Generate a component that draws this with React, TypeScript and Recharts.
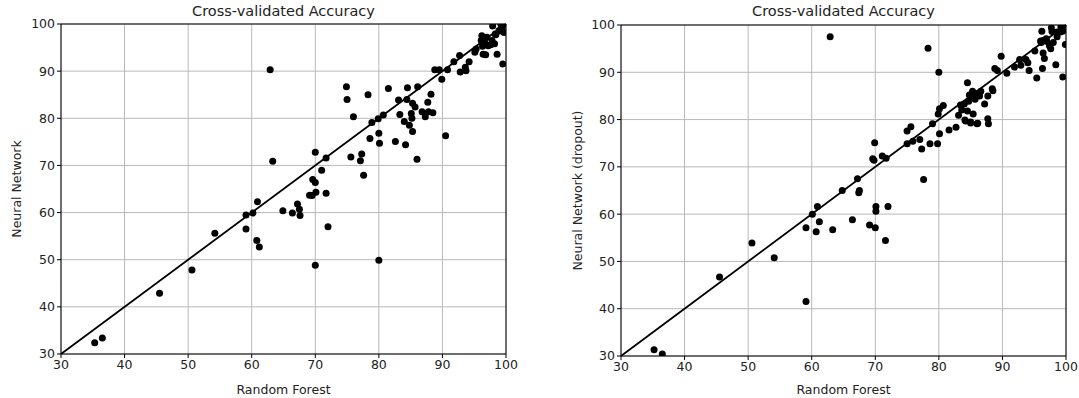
import React from 'react';
import { ScatterChart, Scatter, XAxis, YAxis, CartesianGrid, ReferenceLine, Label } from 'recharts';

const FONT = '"DejaVu Sans", sans-serif';

const axisTicks = [30, 40, 50, 60, 70, 80, 90, 100];
const chartTitle = 'Cross-validated Accuracy';
const xLabel = 'Random Forest';
const plainLabel = 'Neural Network';
const dropoutLabel = 'Neural Network (dropout)';

// [random forest accuracy, neural network accuracy] per dataset
const plainPairs: [number, number][] = [
  [35.3, 32.4], [36.5, 33.4], [45.5, 42.9], [50.6, 47.8], [54.2, 55.6], [59.1, 59.5], [59.1, 56.5],
  [60.2, 59.9], [60.9, 62.3], [60.8, 54.1], [61.2, 52.7], [62.9, 90.3], [63.3, 70.9], [64.9, 60.4],
  [66.4, 59.9], [67.2, 61.8], [67.5, 60.7], [67.6, 59.4], [69.1, 63.7], [69.5, 63.6], [70.1, 64.3],
  [71.7, 64.1], [69.6, 67.0], [70.0, 66.4], [70.0, 72.8], [71.0, 69.0], [71.7, 71.6], [72.0, 57.0],
  [70.0, 48.8], [80.0, 49.9], [75.6, 71.8], [77.1, 71.0], [77.3, 72.4], [77.6, 67.9], [74.9, 86.7],
  [75.0, 84.0], [76.0, 80.3], [78.3, 85.0], [78.6, 75.7], [78.9, 79.1], [79.9, 79.9], [80.7, 80.7],
  [80.0, 76.8], [80.1, 74.7], [81.5, 86.3], [82.6, 75.1], [83.1, 83.9], [83.3, 80.8], [84.0, 79.3],
  [84.5, 86.5], [84.4, 84.0], [84.8, 78.5], [84.2, 74.4], [85.1, 81.0], [85.2, 80.0], [85.3, 83.2],
  [85.7, 82.4], [85.3, 77.2], [86.1, 86.7], [86.0, 71.3], [86.8, 81.4], [87.3, 80.3], [87.8, 81.4],
  [87.7, 83.4], [88.2, 85.1], [88.5, 81.2], [88.8, 90.3], [89.5, 90.3], [89.9, 88.3], [90.8, 90.3],
  [90.5, 76.3], [91.8, 92.0], [92.7, 93.3], [92.8, 89.8], [93.6, 90.8], [93.7, 90.1], [94.2, 92.0],
  [95.1, 94.0], [95.3, 94.7], [96.2, 97.5], [96.1, 96.5], [96.7, 95.8], [97.0, 97.2], [96.4, 93.6],
  [96.8, 93.5], [97.2, 95.4], [97.8, 96.5], [97.9, 99.6], [98.3, 97.9], [98.2, 95.8], [98.6, 93.6],
  [98.9, 98.6], [99.4, 99.3], [99.7, 98.2], [99.5, 91.5], [99.8, 100], [96.6, 96.3], [97.6, 95.6],
  [98.4, 97.7], [99.2, 99.9], [99.0, 98.5], [96.3, 95.3],
];

// [random forest accuracy, neural network with dropout accuracy]
const dropoutPairs: [number, number][] = [
  [35.2, 31.3], [36.5, 30.4], [45.5, 46.7], [50.6, 53.9], [54.1, 50.8], [59.1, 57.1], [59.1, 41.5],
  [60.1, 60.0], [60.9, 61.6], [61.2, 58.4], [60.7, 56.3], [63.3, 56.7], [66.4, 58.8], [69.1, 57.7],
  [70.0, 57.1], [70.1, 61.6], [70.1, 60.6], [72.0, 61.6], [71.6, 54.4], [62.9, 97.5], [64.8, 65.0],
  [67.2, 67.5], [67.5, 65.0], [67.4, 64.5], [69.9, 75.1], [69.6, 71.7], [69.8, 71.4], [71.1, 72.3],
  [71.7, 71.8], [75.0, 74.9], [75.0, 77.6], [75.6, 78.5], [75.9, 75.4], [77.0, 75.8], [77.3, 73.8],
  [77.6, 67.3], [78.6, 74.9], [79.0, 79.1], [78.3, 95.1], [80.0, 90.0], [79.8, 74.9], [80.1, 77.0],
  [80.1, 82.3], [79.9, 81.2], [80.7, 83.0], [81.6, 77.8], [82.7, 78.4], [83.1, 80.9], [83.4, 83.1],
  [84.0, 83.3], [84.5, 87.8], [84.5, 81.8], [84.7, 83.9], [85.0, 79.5], [85.4, 81.2], [85.3, 86.0],
  [85.7, 84.3], [86.1, 79.2], [86.4, 85.0], [86.6, 86.0], [87.2, 83.3], [87.7, 85.0], [87.7, 80.2],
  [87.8, 79.1], [88.4, 86.5], [88.5, 86.1], [84.2, 79.7], [88.8, 90.8], [89.2, 90.4], [89.8, 93.4],
  [90.7, 89.8], [91.9, 91.1], [92.9, 91.5], [92.7, 92.7], [93.7, 92.7], [94.0, 92.0], [94.2, 90.4],
  [95.1, 94.5], [95.4, 88.8], [96.2, 98.7], [96.1, 96.3], [96.4, 94.1], [96.6, 92.9], [96.3, 90.8],
  [96.9, 97.1], [97.4, 95.6], [97.6, 95.0], [98.0, 96.3], [98.6, 98.5], [98.4, 91.6], [99.2, 99.6],
  [99.5, 98.7], [99.5, 89.0], [99.9, 95.9], [97.7, 99.4], [99.6, 99.9], [96.0, 96.6], [96.5, 96.8],
  [97.0, 96.5], [97.8, 98.6], [99.1, 98.5], [98.6, 97.5], [85.0, 79.3], [86.0, 79.1], [84.1, 79.9],
  [85.2, 84.8], [86.0, 85.5], [84.8, 85.2], [83.6, 82.0],
];

// y = x reference diagonal
const diagonal = [{ x: 30, y: 30 }, { x: 100, y: 100 }];

const Dot = (props: any) => <circle cx={props.cx} cy={props.cy} r={3.5} fill="#000" />;

interface PanelProps {
  left: number;
  width: number;
  plotLeft: number;
  plotRight: number;
  plotTop: number;
  plotBottom: number;
  yLabel: string;
  yLabelOffset: number;
  pairs: [number, number][];
}

const Panel: React.FC<PanelProps> = ({ left, width, plotLeft, plotRight, plotTop, plotBottom, yLabel, yLabelOffset, pairs }) => {
  const height = 398;
  const data = pairs.map(([rf, nn]) => ({ rf, nn }));
  const tickStyle = { fill: '#222', fontSize: 12.5, fontFamily: FONT };
  const labelStyle = { fill: '#222', fontSize: 12.5, fontFamily: FONT };
  return (
    <div style={{ position: 'absolute', left, top: 0, width, height }}>
      <div
        style={{
          position: 'absolute',
          left: plotLeft,
          width: plotRight - plotLeft,
          top: 2,
          textAlign: 'center',
          fontFamily: FONT,
          fontSize: 14.5,
          lineHeight: '18px',
          color: '#222',
        }}
      >
        {chartTitle}
      </div>
      <ScatterChart width={width} height={height} margin={{ top: plotTop, right: width - plotRight, bottom: 0, left: 0 }}>
        <CartesianGrid stroke="#b8b8b8" strokeWidth={1} />
        <XAxis
          type="number"
          dataKey="rf"
          domain={[30, 100]}
          ticks={axisTicks}
          interval={0}
          allowDataOverflow
          height={height - plotBottom}
          tickSize={4}
          tick={tickStyle}
          tickLine={{ stroke: '#000' }}
          axisLine={{ stroke: '#000' }}
        >
          <Label value={xLabel} position="insideBottom" offset={4} style={labelStyle} />
        </XAxis>
        <YAxis
          type="number"
          dataKey="nn"
          domain={[30, 100]}
          ticks={axisTicks}
          interval={0}
          allowDataOverflow
          width={plotLeft}
          tickSize={4}
          tick={tickStyle}
          tickLine={{ stroke: '#000' }}
          axisLine={{ stroke: '#000' }}
        >
          <Label
            value={yLabel}
            angle={-90}
            position="insideLeft"
            offset={yLabelOffset}
            style={{ ...labelStyle, textAnchor: 'middle' }}
          />
        </YAxis>
        <ReferenceLine y={100} stroke="#000" strokeWidth={1} />
        <ReferenceLine x={100} stroke="#000" strokeWidth={1} />
        <Scatter data={data} shape={Dot} isAnimationActive={false} />
        <ReferenceLine segment={diagonal} stroke="#000" strokeWidth={1.8} />
      </ScatterChart>
    </div>
  );
};

export default function App() {
  return (
    <div style={{ position: 'absolute', left: 0, top: 0, width: 1079, height: 398, background: '#fff' }}>
      <Panel
        left={0}
        width={540}
        plotLeft={61}
        plotRight={506}
        plotTop={24}
        plotBottom={354}
        yLabel={plainLabel}
        yLabelOffset={17}
        pairs={plainPairs}
      />
      <Panel
        left={540}
        width={539}
        plotLeft={81}
        plotRight={526}
        plotTop={25}
        plotBottom={356}
        yLabel={dropoutLabel}
        yLabelOffset={38}
        pairs={dropoutPairs}
      />
    </div>
  );
}
